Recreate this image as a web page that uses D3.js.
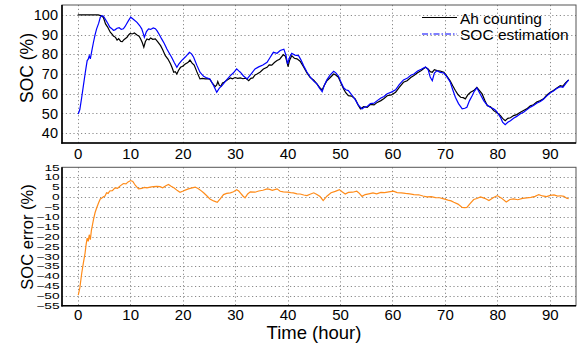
<!DOCTYPE html>
<html><head><meta charset="utf-8">
<script src="https://cdn.jsdelivr.net/npm/d3@7"></script>
<style>body{margin:0;background:#fff}svg{display:block}text{font-family:"Liberation Sans",Arial,sans-serif}</style>
</head><body>
<svg id="c" width="579" height="348"></svg>
<script>
// ---- data ----
const ahCounting = [[0,100],[1,100],[2,100],[3,100],[3.9,100],[4.5,99.5],[4.9,98.6],[5.3,95.4],[5.7,93.8],[6.2,91.2],[6.5,90.4],[6.8,89.3],[7.2,88.6],[7.5,87.2],[7.8,87.9],[8.2,86.5],[8.5,86.4],[8.8,87.4],[9.1,88],[9.4,88.6],[9.7,89.8],[10,90.6],[10.4,90.3],[10.8,90.8],[11.3,89.8],[11.7,89.2],[12,87.8],[12.3,86],[12.6,83.6],[12.9,86.5],[13.2,87.8],[13.6,87.4],[13.9,88.3],[14.3,87.6],[14.8,87.8],[15.3,86.2],[15.8,84.4],[16.2,82.3],[16.7,79.3],[17.2,77.6],[17.7,75.1],[18,73.2],[18.3,70.9],[18.6,71.2],[18.9,70.0],[19.2,71.8],[19.6,73.4],[20,73.9],[20.5,75.1],[21,75.8],[21.4,77.1],[21.8,75.5],[22.2,74.5],[22.7,71.2],[23.3,67.5],[23.8,67.8],[24.3,67.5],[24.8,67.6],[25.2,67.3],[25.7,65.2],[26.2,63.6],[26.5,64.5],[26.7,66.2],[27,64.2],[27.3,63.8],[27.6,65.5],[27.9,65.8],[28.5,67],[29.1,68],[29.5,67.6],[30,68.2],[30.5,67.8],[31,68],[31.5,67.6],[32,67.9],[32.6,66.6],[33,67.8],[33.4,68],[33.8,69.5],[34.2,70],[34.8,71],[35.4,72.5],[36.1,73.4],[36.5,74.6],[37,74.5],[37.5,75.8],[38,76.8],[38.5,77.5],[39.2,79.8],[39.6,79],[39.9,76],[40.1,73.8],[40.4,77],[40.8,79.3],[41.3,78],[41.8,77.7],[42.4,76.5],[43.1,73.4],[43.7,70.5],[44.3,68.3],[45,66.8],[45.6,65],[46.1,63.2],[46.6,61.9],[47,64.2],[47.5,66.6],[48.1,68.1],[48.8,70],[49.2,69.5],[49.7,68.3],[50.2,65.3],[50.7,62.4],[51.1,60.5],[51.6,59],[52.2,58.8],[52.9,57.4],[53.4,54.6],[53.9,52.3],[54.5,53.4],[55.2,53.1],[55.8,54.6],[56.5,54.3],[57.1,55.6],[57.8,56.5],[58.4,57.6],[59,59],[59.8,59.4],[60.6,60.7],[61.3,63.2],[62.1,65.8],[62.8,66.6],[63.5,68.2],[64.1,69.2],[64.8,70.6],[65.5,71.8],[66.3,73.4],[66.8,72.5],[67.2,71.2],[67.6,70.9],[68,72.2],[68.5,71.7],[69.1,71.5],[69.8,70.9],[70.4,68.8],[71,66.6],[71.5,64],[72,61.6],[72.5,59.6],[73,58.2],[73.5,58],[73.9,57.4],[74.4,59.5],[74.9,60.7],[75.5,61.6],[76.1,63.2],[76.6,61.6],[77.1,59.9],[77.6,56.7],[78.1,53.9],[78.7,53.4],[79.3,51.4],[80,50.2],[80.6,48.9],[81,47.5],[81.5,46.3],[82,47.5],[82.5,47.8],[83.1,48.9],[83.7,49.4],[84.4,50.6],[85,51.5],[85.6,52.3],[86.3,53.9],[86.9,54.4],[87.5,55.8],[88.2,56.5],[88.8,57.4],[89.4,59.2],[90.1,60.7],[90.7,61.6],[91.3,62.8],[92,64.1],[92.5,63.8],[93,65.5],[93.6,67]];

const socEstimation = [[0.1,49.7],[0.4,52],[0.76,58.2],[1.1,64.5],[1.4,70],[1.6,73.5],[1.8,76.8],[2.0,77.5],[2.2,79.3],[2.4,77.7],[2.7,82],[3.0,86.1],[3.3,89.8],[3.6,92.9],[4.0,95.8],[4.3,98.8],[4.6,99.6],[4.9,99.3],[5.3,97.6],[5.8,95.4],[6.1,93.8],[6.5,93],[6.8,92.2],[7.1,92.4],[7.5,93.2],[7.9,93.5],[8.3,92.6],[8.7,92.9],[9,94],[9.3,95.4],[9.7,97.2],[10.1,98.8],[10.6,97.8],[11.3,96.2],[11.8,94.6],[12.2,92.9],[12.5,90.5],[12.7,88.6],[13.1,91.5],[13.5,92.9],[13.9,92.6],[14.4,93.4],[14.8,93],[15.1,92],[15.6,89.8],[16,87.8],[16.5,85.5],[17,82.7],[17.4,80.8],[17.9,78.5],[18.4,75.8],[18.9,73.4],[19.3,75.2],[19.8,76.8],[20.5,78.6],[21.3,81],[21.7,80.2],[22.1,78.5],[22.7,74.5],[23.3,70.9],[24,68.8],[24.6,68],[25.2,67.5],[25.9,64.2],[26.5,60.7],[27,62.8],[27.5,64.1],[28.3,66.8],[29.1,69.2],[29.7,70.6],[30.3,72.6],[30.7,71.6],[31,70.9],[31.6,69],[32.3,67.5],[33,69.8],[33.8,72.6],[34.5,73.6],[35.3,74.6],[36.1,75.9],[36.7,78.5],[37.3,81],[38,80.5],[38.6,81.9],[39.3,82.6],[39.7,79.5],[40,75.1],[40.4,78.5],[40.8,80.5],[41.4,79.6],[42.1,79.3],[42.6,77],[43.1,74],[43.7,71],[44.3,68.5],[45,66.4],[45.6,65],[46.1,62.8],[46.6,61],[47,64.2],[47.5,67],[48.1,69.4],[48.8,71.4],[49.2,70.6],[49.7,69],[50.2,65.8],[50.7,63],[51.1,62],[51.6,61.6],[52.2,59.6],[52.9,57],[53.5,54.2],[54.2,52.3],[54.7,53.2],[55.2,53.5],[55.8,55],[56.5,55.2],[57.1,56.5],[57.8,57.8],[58.4,58.6],[59,60],[59.8,60.8],[60.6,62],[61.3,64.6],[62.1,67],[62.8,67.8],[63.5,69.4],[64.1,70],[64.8,71.5],[65.5,72.4],[66.3,73.6],[66.8,72.2],[67.2,68.5],[67.6,66.6],[68,70.5],[68.5,71.7],[69.1,70.8],[69.8,70.5],[70.4,68.5],[71,66],[71.5,62],[72,58.2],[72.6,55],[73.3,52.3],[73.8,52.6],[74.2,53.1],[74.7,56.5],[75.2,59],[75.6,61.2],[76.1,63],[76.7,60],[77.4,56.5],[78,54.4],[78.6,53.1],[79.2,52.5],[79.7,51.5],[80.2,49.6],[80.6,48],[81,45.6],[81.5,44.3],[82,45.5],[82.5,46.3],[83.1,47.6],[83.7,48.5],[84.4,49.8],[85,50.6],[85.6,51.8],[86.3,53.2],[86.9,54],[87.5,55.2],[88.2,56],[88.8,57.2],[89.4,58.8],[90.1,60.5],[90.7,61.4],[91.3,62.6],[92,63.6],[92.5,63.2],[93,65],[93.6,67]];

const socError = [[0.1,-49.6],[0.4,-46],[0.76,-38.6],[1.1,-33],[1.4,-28.4],[1.6,-24],[1.8,-20.8],[2.0,-22.5],[2.2,-19.1],[2.4,-21.6],[2.6,-17],[3.0,-11.5],[3.3,-8],[3.6,-5.6],[4.0,-2.8],[4.3,-1],[4.6,-0.5],[4.9,0.1],[5.2,0.5],[5.5,2.1],[5.8,1.8],[6.1,3],[6.6,3.2],[7.1,4.6],[7.6,4.4],[8.1,5.6],[8.7,6.8],[9.2,6.6],[9.6,7.6],[10.1,8.3],[10.5,7.8],[11,5.8],[11.6,4.1],[12.2,4.3],[12.7,4.8],[13.2,4.6],[13.8,5],[14.4,5.2],[15.1,5.4],[15.7,5.2],[16.2,4.6],[16.8,5.7],[17.3,6.3],[17.8,5.4],[18.4,4.5],[19,3.2],[19.5,2.4],[20.1,3],[20.6,3.6],[21.1,4.1],[21.8,4.6],[22.4,5],[23,4.2],[23.5,3.2],[24,2.1],[24.6,0.6],[25.2,-1],[25.9,-2],[26.6,-2.7],[27.2,-0.8],[27.8,1.2],[28.4,1.8],[29.1,2.1],[29.7,2.6],[30.3,3.7],[30.7,3],[31,2.1],[31.5,0.5],[31.9,-0.5],[32.4,1.5],[32.9,2.6],[33.8,2.4],[34.5,3],[35.3,3.4],[36.1,4.1],[36.6,3.8],[37.1,3.3],[38,4.1],[38.6,2.9],[39.2,2.6],[40,2.4],[40.6,2.2],[41.1,2.1],[41.8,1.6],[42.4,1.5],[43.1,1],[43.7,0.7],[44.3,1.4],[45,2.1],[45.6,1.2],[46.2,0.2],[46.8,-1.8],[47.5,0.4],[48.3,2.1],[49.1,2.8],[49.9,3.7],[50.4,2.6],[51,1.5],[51.6,2.3],[52.4,2.4],[53.2,2.9],[53.7,1.8],[54.2,0.3],[54.8,1.2],[55.5,1.6],[56.3,2.1],[57,1.6],[57.8,2.3],[58.5,2.2],[59.3,2.6],[60.2,2.9],[60.9,2.2],[61.7,2.1],[62.5,1.8],[63.3,1.6],[64.1,1.2],[65,1.1],[65.8,0.5],[66.6,0],[67.4,0.2],[68.2,-0.3],[69,-0.4],[69.8,-1],[70.6,-1.6],[71.2,-2],[71.7,-2.7],[72.5,-3.6],[73.3,-5.3],[73.8,-5.4],[74.2,-5.3],[74.8,-3.4],[75.5,-1.3],[76.1,-0.8],[76.8,0],[77.6,-0.7],[78.4,-1.8],[79.2,-0.4],[80,0.7],[80.8,-0.6],[81.7,-2.5],[82.4,-1.3],[83.1,-1],[83.9,-1.4],[84.8,-0.7],[85.6,-0.5],[86.4,-0.2],[87.2,0.3],[87.9,1.2],[88.6,0.5],[89.4,0.2],[90.1,0.8],[90.8,1.0],[91.5,0.4],[92.1,0.6],[92.7,0.3],[93.2,-0.6],[93.6,-0.8]];

const xTicks = [0,10,20,30,40,50,60,70,80,90];
const socTicks = [40,50,60,70,80,90,100];
const errTicks = [15,10,5,0,-5,-10,-15,-20,-25,-30,-35,-40,-45,-50,-55];
const legendLabels = ["Ah counting","SOC estimation"];

// ---- layout ----
const svg = d3.select("#c");
const L = 62, R = 576;
const top1 = 5, bot1 = 143, top2 = 167.3, bot2 = 305.7;
const x = d3.scaleLinear().domain([-3,95]).range([L,R]);
const y1 = d3.scaleLinear().domain([35,105]).range([bot1,top1]);
const y2 = d3.scaleLinear().domain([-55,15]).range([bot2,top2]);

const defs = svg.append("defs");
defs.append("clipPath").attr("id","cp1").append("rect").attr("x",L).attr("y",top1).attr("width",R-L).attr("height",bot1-top1);
defs.append("clipPath").attr("id","cp2").append("rect").attr("x",L).attr("y",top2).attr("width",R-L).attr("height",bot2-top2);

function grid(yScale, yGridTicks, t, b){
  const g = svg.append("g").attr("stroke","#8a8a8a").attr("stroke-width",1).attr("stroke-dasharray","1.2,2.6");
  g.selectAll(".v").data(xTicks).enter().append("line")
    .attr("x1",d=>Math.round(x(d))+0.5).attr("x2",d=>Math.round(x(d))+0.5).attr("y1",t).attr("y2",b);
  g.selectAll(".h").data(yGridTicks).enter().append("line")
    .attr("x1",L).attr("x2",R).attr("y1",d=>Math.round(yScale(d))+0.5).attr("y2",d=>Math.round(yScale(d))+0.5);
}
grid(y1, socTicks, top1, bot1);
grid(y2, errTicks.filter(d=>d<15 && d>-55), top2, bot2);

const line1 = d3.line().x(d=>x(d[0])).y(d=>y1(d[1]));
const line2 = d3.line().x(d=>x(d[0])).y(d=>y2(d[1]));

svg.append("path").datum(ahCounting).attr("clip-path","url(#cp1)").attr("d",line1)
  .attr("fill","none").attr("stroke","#000").attr("stroke-width",1.2);
svg.append("path").datum(socEstimation).attr("clip-path","url(#cp1)").attr("d",line1)
  .attr("fill","none").attr("stroke","#0000ff").attr("stroke-width",1.2);
svg.append("path").datum(socError).attr("clip-path","url(#cp2)").attr("d",line2)
  .attr("fill","none").attr("stroke","#ff8c1a").attr("stroke-width",1.2);

// frames
function frame(t,b){
  svg.append("rect").attr("x",L).attr("y",t).attr("width",R-L).attr("height",b-t)
    .attr("fill","none").attr("stroke","#555").attr("stroke-width",1);
  svg.append("line").attr("x1",L).attr("x2",L).attr("y1",t).attr("y2",b+0.7).attr("stroke","#000").attr("stroke-width",1.6);
  svg.append("line").attr("x1",L-0.7).attr("x2",R).attr("y1",b).attr("y2",b).attr("stroke","#000").attr("stroke-width",1.6);
}
frame(top1,bot1); frame(top2,bot2);

// axes
const ax1 = svg.append("g").attr("transform",`translate(0,${bot1})`)
  .call(d3.axisBottom(x).tickValues(xTicks).tickSize(0).tickPadding(5));
const ax2 = svg.append("g").attr("transform",`translate(0,${bot2})`)
  .call(d3.axisBottom(x).tickValues(xTicks).tickSize(0).tickPadding(4));
const ay1 = svg.append("g").attr("transform",`translate(${L},0)`)
  .call(d3.axisLeft(y1).tickValues(socTicks).tickSize(0).tickPadding(4));
const ay2 = svg.append("g").attr("transform",`translate(${L},0)`)
  .call(d3.axisLeft(y2).tickValues(errTicks).tickSize(0).tickPadding(2));
[ax1,ax2,ay1,ay2].forEach(a=>{a.select(".domain").remove(); a.selectAll("text").attr("fill","#000").style("font-family","'Liberation Sans',Arial,sans-serif");});
ax1.selectAll("text").style("font-size","15px");
ax2.selectAll("text").style("font-size","15px");
ay1.selectAll("text").style("font-size","14.5px");
ay2.selectAll("text").style("font-size","12px").attr("transform","scale(1.15,0.72)");

// axis titles
svg.append("text").attr("transform","translate(33,68) rotate(-90)").attr("text-anchor","middle")
  .style("font-size","17.5px").text("SOC (%)");
svg.append("text").attr("transform","translate(33,237) rotate(-90)").attr("text-anchor","middle")
  .style("font-size","16.5px").text("SOC error (%)");
svg.append("text").attr("x",314).attr("y",339).attr("text-anchor","middle")
  .style("font-size","18.5px").text("Time (hour)");

// legend
const lg = svg.append("g");
lg.append("line").attr("x1",422).attr("x2",457).attr("y1",17.5).attr("y2",17.5).attr("stroke","#000").attr("stroke-width",1.2);
lg.append("line").attr("x1",422).attr("x2",457).attr("y1",34).attr("y2",34).attr("stroke","#0000ff").attr("stroke-width",1.2)
  .attr("stroke-dasharray","6,2,1.5,2");
lg.append("text").attr("x",460).attr("y",23.5).style("font-size","15.5px").text(legendLabels[0]);
lg.append("text").attr("x",460).attr("y",40).style("font-size","15.5px").text(legendLabels[1]);
</script>
</body></html>
